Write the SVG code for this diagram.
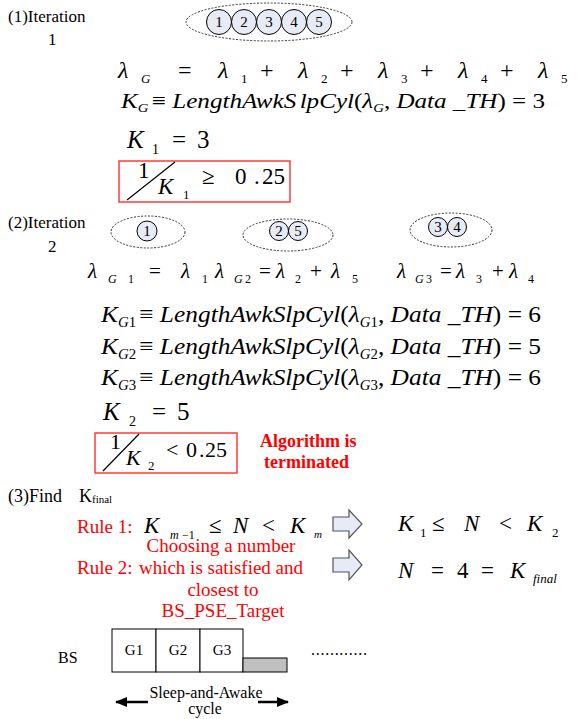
<svg xmlns="http://www.w3.org/2000/svg" width="580" height="719" viewBox="0 0 580 719" font-family="'Liberation Serif', 'DejaVu Serif', serif">
<defs>
<style>
text{font-family:'Liberation Serif','Times New Roman','DejaVu Serif',serif}
.t{fill:#000}
.i{font-style:italic}
.red{fill:#ff0000}
.dash{fill:none;stroke:#333;stroke-width:1;stroke-dasharray:2 1.5}
.node{fill:#e6ebf6;stroke:#000;stroke-width:1}
.num{font-size:15px;text-anchor:middle}
.box{fill:none;stroke:#ff3b3b;stroke-width:1.5}
.cell{fill:#fff;stroke:#000;stroke-width:1}
.blk{fill:#e6ebf6;stroke:#555;stroke-width:1.2}
</style>
<marker id="ah" viewBox="0 0 12 10" refX="11" refY="5" markerWidth="12" markerHeight="10" markerUnits="userSpaceOnUse" orient="auto">
<path d="M0,0 L12,5 L0,10 z" fill="#000"/>
</marker>
</defs>
<rect width="580" height="719" fill="#fff"/>

<g id="iteration1">
<text class="t" x="8" y="22" font-size="17">(1)Iteration</text>
<text class="t" x="48" y="45" font-size="17">1</text>
<ellipse class="dash" cx="269" cy="22" rx="83" ry="19"/>
<g id="group-all">
<circle class="node" cx="219" cy="22" r="12.5"/><text class="num" x="219" y="27">1</text>
<circle class="node" cx="244" cy="22" r="12.5"/><text class="num" x="244" y="27">2</text>
<circle class="node" cx="269" cy="22" r="12.5"/><text class="num" x="269" y="27">3</text>
<circle class="node" cx="294" cy="22" r="12.5"/><text class="num" x="294" y="27">4</text>
<circle class="node" cx="319" cy="22" r="12.5"/><text class="num" x="319" y="27">5</text>
</g>
<text class="t" font-size="24"><tspan class="i" x="118" y="78">λ</tspan><tspan class="i" x="141" y="83" font-size="13">G</tspan><tspan x="178" y="78">=</tspan><tspan class="i" x="218" y="78">λ</tspan><tspan x="241" y="83" font-size="13">1</tspan><tspan x="260" y="78">+</tspan><tspan class="i" x="298" y="78">λ</tspan><tspan x="321" y="83" font-size="13">2</tspan><tspan x="340" y="78">+</tspan><tspan class="i" x="378" y="78">λ</tspan><tspan x="401" y="83" font-size="13">3</tspan><tspan x="420" y="78">+</tspan><tspan class="i" x="458" y="78">λ</tspan><tspan x="481" y="83" font-size="13">4</tspan><tspan x="500" y="78">+</tspan><tspan class="i" x="538" y="78">λ</tspan><tspan x="561" y="83" font-size="13">5</tspan></text>
<text class="t" x="121" y="108" font-size="22" textLength="424" lengthAdjust="spacingAndGlyphs"><tspan class="i">K</tspan><tspan class="i" font-size="13" dy="4">G</tspan><tspan dy="-4" dx="3">≡ </tspan><tspan class="i">LengthAwkS</tspan><tspan class="i" dx="3">lpCyl</tspan><tspan>(</tspan><tspan class="i">λ</tspan><tspan class="i" font-size="13" dy="4">G</tspan><tspan dy="-4">, </tspan><tspan class="i">Data _TH</tspan><tspan>) = 3</tspan></text>
<text class="t" font-size="25"><tspan class="i" x="127" y="148">K</tspan><tspan x="152" y="154" font-size="14">1</tspan><tspan x="172" y="148">=</tspan><tspan x="197" y="148">3</tspan></text>
</g>

<g id="check1">
<rect class="box" x="119" y="161" width="171" height="41"/>
<line x1="127" y1="200" x2="175" y2="162" stroke="#000" stroke-width="1.2"/>
<text class="t" font-size="23"><tspan x="138" y="178">1</tspan><tspan class="i" x="158" y="194">K</tspan><tspan x="183" y="199" font-size="13">1</tspan><tspan x="202" y="184">≥</tspan><tspan x="235" y="184">0</tspan><tspan x="254" y="184">.</tspan><tspan x="262" y="184">25</tspan></text>
</g>

<g id="iteration2">
<text class="t" x="8" y="228" font-size="17">(2)Iteration</text>
<text class="t" x="48" y="252" font-size="17">2</text>
<g id="group-g1">
<ellipse class="dash" cx="148" cy="232" rx="37" ry="16"/>
<circle class="node" cx="147" cy="231" r="10"/><text class="num" x="147" y="236" font-size="13">1</text>
</g>
<g id="group-g2">
<ellipse class="dash" cx="288" cy="235" rx="45" ry="16"/>
<circle class="node" cx="279" cy="231" r="9.5"/><text class="num" x="279" y="236">2</text>
<circle class="node" cx="298" cy="231" r="9.5"/><text class="num" x="298" y="236">5</text>
</g>
<g id="group-g3">
<ellipse class="dash" cx="451" cy="230" rx="41" ry="17"/>
<circle class="node" cx="438" cy="227" r="9.5"/><text class="num" x="438" y="232">3</text>
<circle class="node" cx="457" cy="227" r="9.5"/><text class="num" x="457" y="232">4</text>
</g>
<text class="t" font-size="21"><tspan class="i" x="88" y="278">λ</tspan><tspan class="i" x="108" y="283" font-size="12">G</tspan><tspan x="128" y="283" font-size="12">1</tspan><tspan x="149" y="278">=</tspan><tspan class="i" x="181" y="278">λ</tspan><tspan x="202" y="283" font-size="12">1</tspan><tspan class="i" x="215" y="278">λ</tspan><tspan class="i" x="234" y="283" font-size="12">G</tspan><tspan x="245" y="283" font-size="12">2</tspan><tspan x="259" y="278">=</tspan><tspan class="i" x="276" y="278">λ</tspan><tspan x="295" y="283" font-size="12">2</tspan><tspan x="310" y="278">+</tspan><tspan class="i" x="331" y="278">λ</tspan><tspan x="352" y="283" font-size="12">5</tspan><tspan class="i" x="397" y="278">λ</tspan><tspan class="i" x="415" y="283" font-size="12">G</tspan><tspan x="426" y="283" font-size="12">3</tspan><tspan x="440" y="278">=</tspan><tspan class="i" x="456" y="278">λ</tspan><tspan x="476" y="283" font-size="12">3</tspan><tspan x="492" y="278">+</tspan><tspan class="i" x="509" y="278">λ</tspan><tspan x="528" y="283" font-size="12">4</tspan></text>
<text class="t" x="101" y="322" font-size="24" textLength="440" lengthAdjust="spacingAndGlyphs"><tspan class="i">K</tspan><tspan font-size="14" dy="5"><tspan class="i">G</tspan>1</tspan><tspan dy="-5" dx="3">≡ </tspan><tspan class="i">LengthAwkSlpCyl</tspan><tspan>(</tspan><tspan class="i">λ</tspan><tspan font-size="14" dy="5"><tspan class="i">G</tspan>1</tspan><tspan dy="-5">, </tspan><tspan class="i">Data _TH</tspan><tspan>) = 6</tspan></text>
<text class="t" x="101" y="354" font-size="24" textLength="440" lengthAdjust="spacingAndGlyphs"><tspan class="i">K</tspan><tspan font-size="14" dy="5"><tspan class="i">G</tspan>2</tspan><tspan dy="-5" dx="3">≡ </tspan><tspan class="i">LengthAwkSlpCyl</tspan><tspan>(</tspan><tspan class="i">λ</tspan><tspan font-size="14" dy="5"><tspan class="i">G</tspan>2</tspan><tspan dy="-5">, </tspan><tspan class="i">Data _TH</tspan><tspan>) = 5</tspan></text>
<text class="t" x="101" y="385" font-size="24" textLength="440" lengthAdjust="spacingAndGlyphs"><tspan class="i">K</tspan><tspan font-size="14" dy="5"><tspan class="i">G</tspan>3</tspan><tspan dy="-5" dx="3">≡ </tspan><tspan class="i">LengthAwkSlpCyl</tspan><tspan>(</tspan><tspan class="i">λ</tspan><tspan font-size="14" dy="5"><tspan class="i">G</tspan>3</tspan><tspan dy="-5">, </tspan><tspan class="i">Data _TH</tspan><tspan>) = 6</tspan></text>
<text class="t" font-size="25"><tspan class="i" x="103" y="420">K</tspan><tspan x="129" y="426" font-size="14">2</tspan><tspan x="152" y="420">=</tspan><tspan x="177" y="420">5</tspan></text>
</g>

<g id="check2">
<rect class="box" x="95" y="433" width="142" height="40"/>
<line x1="103" y1="471" x2="139" y2="434" stroke="#000" stroke-width="1.2"/>
<text class="t" font-size="22"><tspan x="110" y="449">1</tspan><tspan class="i" x="126" y="465">K</tspan><tspan x="148" y="470" font-size="13">2</tspan><tspan x="166" y="457">&lt;</tspan><tspan x="186" y="457">0</tspan><tspan x="199" y="457">.</tspan><tspan x="205" y="457">25</tspan></text>
<text class="t red" x="260" y="447" font-size="18" font-weight="bold">Algorithm is</text>
<text class="t red" x="264" y="468" font-size="18" font-weight="bold">terminated</text>
</g>

<g id="find">
<text class="t" x="8" y="502" font-size="18">(3)Find</text>
<text class="t" x="79" y="502" font-size="18">K<tspan font-size="11" dy="1">final</tspan></text>
</g>

<g id="rule1">
<text class="t red" x="77" y="533" font-size="19">Rule 1:</text>
<text class="t" font-size="23"><tspan class="i" x="144" y="533">K</tspan><tspan class="i" x="170" y="539" font-size="12">m</tspan><tspan x="182" y="539" font-size="12">−1</tspan><tspan x="209" y="533">≤</tspan><tspan class="i" x="233" y="533">N</tspan><tspan x="262" y="533">&lt;</tspan><tspan class="i" x="290" y="533">K</tspan><tspan class="i" x="314" y="538" font-size="11">m</tspan></text>
<text class="t" font-size="23"><tspan class="i" x="398" y="531">K</tspan><tspan x="420" y="537" font-size="13">1</tspan><tspan x="432" y="531">≤</tspan><tspan class="i" x="464" y="531">N</tspan><tspan x="499" y="531">&lt;</tspan><tspan class="i" x="527" y="531">K</tspan><tspan x="552" y="537" font-size="13">2</tspan></text>
</g>

<g id="rule2">
<text class="t red" x="77" y="574" font-size="19">Rule 2:</text>
<text class="t red" font-size="19" text-anchor="middle"><tspan x="221" y="552">Choosing a number</tspan><tspan x="221" y="574">which is satisfied and</tspan><tspan x="223" y="596">closest to</tspan><tspan x="223" y="617">BS_PSE_Target</tspan></text>
<text class="t" font-size="23"><tspan class="i" x="398" y="578">N</tspan><tspan x="431" y="578">=</tspan><tspan x="457" y="578">4</tspan><tspan x="481" y="578">=</tspan><tspan class="i" x="510" y="578">K</tspan><tspan class="i" x="533" y="583" font-size="13">final</tspan></text>
</g>

<g id="bs">
<text class="t" x="58" y="663" font-size="16">BS</text>
<rect class="cell" x="112" y="629" width="44" height="43"/>
<rect class="cell" x="156" y="629" width="44" height="43"/>
<rect class="cell" x="200" y="629" width="43" height="43"/>
<rect x="243" y="658" width="44" height="14" fill="#c0c0c0" stroke="#000" stroke-width="1"/>
<text class="t" font-size="15" text-anchor="middle"><tspan x="134" y="655">G1</tspan><tspan x="178" y="655">G2</tspan><tspan x="222" y="655">G3</tspan></text>
<text class="t" x="311" y="655" font-size="16" textLength="56" lengthAdjust="spacing">............</text>
<text class="t" font-size="16" text-anchor="middle"><tspan x="206" y="698">Sleep-and-Awake</tspan><tspan x="205" y="714">cycle</tspan></text>
</g>

<g id="connectors">
<path class="blk" d="M333,517 H349 V510 L362,524 L349,538 V531 H333 Z"/>
<path class="blk" d="M333,558 H349 V550 L362,565 L349,580 V572 H333 Z"/>
<line x1="148" y1="702" x2="116" y2="702" stroke="#000" stroke-width="2.5" marker-end="url(#ah)"/>
<line x1="258" y1="702" x2="288" y2="702" stroke="#000" stroke-width="2.5" marker-end="url(#ah)"/>
</g>
</svg>
